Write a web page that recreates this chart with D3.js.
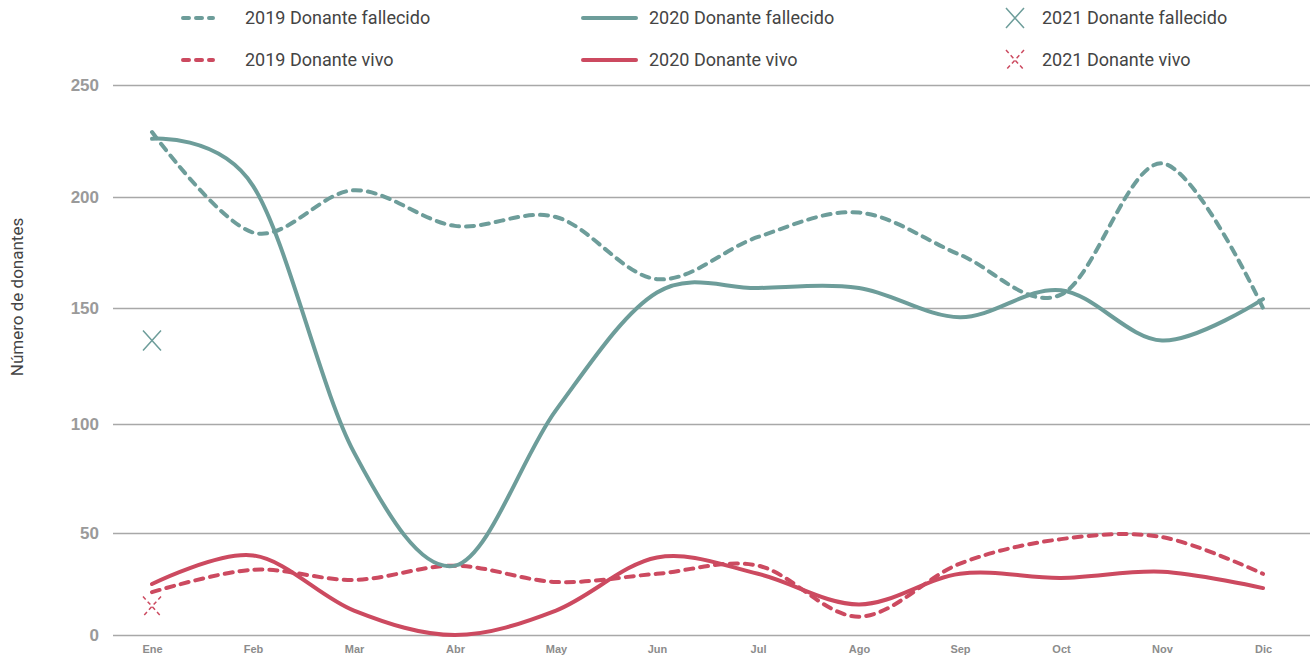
<!DOCTYPE html>
<html>
<head>
<meta charset="utf-8">
<script src="https://cdn.jsdelivr.net/npm/d3@7"></script>
<style>
  body { margin: 0; background: #fff; }
  svg { display: block; font-family: Roboto, "DejaVu Sans", sans-serif; }
</style>
</head>
<body>
<script>
const months = ["Ene", "Feb", "Mar", "Abr", "May", "Jun", "Jul", "Ago", "Sep", "Oct", "Nov", "Dic"];
const yTicks = [0, 50, 100, 150, 200, 250];

const fallecido2019 = [229, 184, 203, 187, 191, 163, 182, 193, 174, 156, 215, 150];
const fallecido2020 = [226, 205, 87, 34, 106, 157, 159, 159, 146, 158, 136, 154];
const vivo2019 = [21, 32, 27, 34, 26, 30, 34, 9, 35, 47, 48, 30];
const vivo2020 = [25, 39, 12, 0, 12, 38, 30, 15, 30, 28, 31, 23];
const fallecido2021 = [136];
const vivo2021 = [14];

const width = 1316;
const height = 659;
const teal = "#6d9d9a";
const red = "#cc4a60";

const svg = d3.select("body").append("svg")
  .attr("width", width)
  .attr("height", height);

const x = d3.scalePoint().domain(months).range([152, 1263]);
// grid in the original is slightly uneven, so a polylinear scale
const y = d3.scaleLinear()
  .domain(yTicks)
  .range([635, 533, 424, 308, 197, 85]);

// y axis + grid
const yAxis = svg.append("g")
  .attr("transform", "translate(113,0)")
  .call(d3.axisLeft(y).tickValues(yTicks).tickSize(-(1310 - 113)).tickPadding(14));
yAxis.select(".domain").remove();
yAxis.selectAll(".tick line").attr("stroke", "#a8a8a8").attr("stroke-width", 1.3);
yAxis.selectAll(".tick text")
  .attr("fill", "#9a9a9a")
  .style("font-size", "17px")
  .style("font-weight", "bold");

// x axis
const xAxis = svg.append("g")
  .attr("transform", "translate(0,635)")
  .call(d3.axisBottom(x).tickSize(0).tickPadding(10));
xAxis.select(".domain").remove();
xAxis.selectAll(".tick text")
  .attr("fill", "#8c8c8c")
  .style("font-size", "11px")
  .style("font-weight", "bold");

svg.append("text")
  .attr("transform", "translate(23,297) rotate(-90)")
  .attr("text-anchor", "middle")
  .attr("fill", "#444")
  .style("font-size", "17px")
  .text("Número de donantes");

const line = d3.line()
  .x((d, i) => x(months[i]))
  .y((d) => y(d))
  .curve(d3.curveCardinal.tension(0));

const series = [
  { data: fallecido2019, color: teal, dash: "8,7" },
  { data: vivo2019, color: red, dash: "8,7" },
  { data: fallecido2020, color: teal, dash: null },
  { data: vivo2020, color: red, dash: null }
];

series.forEach((s) => {
  svg.append("path")
    .datum(s.data)
    .attr("d", line)
    .attr("fill", "none")
    .attr("stroke", s.color)
    .attr("stroke-width", 4)
    .attr("stroke-linecap", "round")
    .attr("stroke-dasharray", s.dash);
});

function drawX(g, cx, cy, color, dashed) {
  g.append("path")
    .attr("d", `M${cx - 9},${cy - 10}L${cx + 9},${cy + 10}M${cx + 9},${cy - 10}L${cx - 9},${cy + 10}`)
    .attr("fill", "none")
    .attr("stroke", color)
    .attr("stroke-width", 1.5)
    .attr("stroke-dasharray", dashed ? "4,3" : null);
}

fallecido2021.forEach((v, i) => drawX(svg, x(months[i]), y(v), teal, false));
vivo2021.forEach((v, i) => drawX(svg, x(months[i]), y(v), red, true));

// legend
const legendItems = [
  { label: "2019 Donante fallecido", color: teal, type: "dash", col: 0, row: 0 },
  { label: "2019 Donante vivo", color: red, type: "dash", col: 0, row: 1 },
  { label: "2020 Donante fallecido", color: teal, type: "solid", col: 1, row: 0 },
  { label: "2020 Donante vivo", color: red, type: "solid", col: 1, row: 1 },
  { label: "2021 Donante fallecido", color: teal, type: "x", col: 2, row: 0 },
  { label: "2021 Donante vivo", color: red, type: "xdash", col: 2, row: 1 }
];
const colX = [181, 581, 1006];
const colText = [245, 649, 1042];
const rowY = [18, 60];

const legend = svg.append("g");
legendItems.forEach((d) => {
  const lx = colX[d.col];
  const ly = rowY[d.row];
  if (d.type === "dash") {
    legend.append("line")
      .attr("x1", lx + 2).attr("x2", lx + 32).attr("y1", ly).attr("y2", ly)
      .attr("stroke", d.color).attr("stroke-width", 4)
      .attr("stroke-linecap", "round").attr("stroke-dasharray", "6,7");
  } else if (d.type === "solid") {
    legend.append("line")
      .attr("x1", lx + 2).attr("x2", lx + 55).attr("y1", ly).attr("y2", ly)
      .attr("stroke", d.color).attr("stroke-width", 4)
      .attr("stroke-linecap", "round");
  } else {
    drawX(legend, lx + 9, ly, d.color, d.type === "xdash");
  }
  legend.append("text")
    .attr("x", colText[d.col])
    .attr("y", ly)
    .attr("dy", "0.35em")
    .attr("fill", "#444")
    .style("font-size", "18px")
    .text(d.label);
});
</script>
</body>
</html>
